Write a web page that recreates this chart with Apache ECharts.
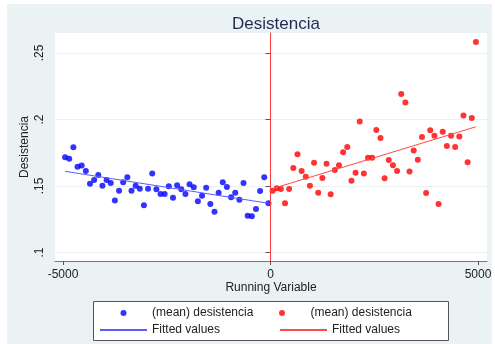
<!DOCTYPE html>
<html>
<head>
<meta charset="utf-8">
<script src="https://cdn.jsdelivr.net/npm/echarts@6/dist/echarts.min.js"></script>
<style>
html,body{margin:0;padding:0;background:#fff;}
#c{width:495px;height:344px;}
</style>
</head>
<body>
<div id="c"></div>
<script>
// Bin centers (running variable) and mean desistencia per bin
const xLeft = [-4950,-4850,-4750,-4650,-4550,-4450,-4350,-4250,-4150,-4050,
  -3950,-3850,-3750,-3650,-3550,-3450,-3350,-3250,-3150,-3050,
  -2950,-2850,-2750,-2650,-2550,-2450,-2350,-2250,-2150,-2050,
  -1950,-1850,-1750,-1650,-1550,-1450,-1350,-1250,-1150,-1050,
  -950,-850,-750,-650,-550,-450,-350,-250,-150,-50];
const yLeft = [0.1716,0.1705,0.1791,0.1645,0.1653,0.1613,0.1517,0.1545,0.1583,0.1502,
  0.1545,0.1523,0.1390,0.1465,0.1528,0.1566,0.1465,0.1502,0.1480,0.1355,
  0.1480,0.1593,0.1475,0.1440,0.1440,0.1498,0.1412,0.1505,0.1475,0.1440,
  0.1513,0.1490,0.1385,0.1427,0.1487,0.1365,0.1307,0.1450,0.1528,0.1493,
  0.1415,0.1450,0.1397,0.1523,0.1277,0.1272,0.1327,0.1462,0.1566,0.1370];
const xRight = [50,150,250,350,450,550,650,750,850,950,
  1050,1150,1250,1350,1450,1550,1650,1750,1850,1950,
  2050,2150,2250,2350,2450,2550,2650,2750,2850,2950,
  3050,3150,3250,3350,3450,3550,3650,3750,3850,3950,
  4050,4150,4250,4350,4450,4550,4650,4750,4850,4950];
const yRight = [0.1465,0.1483,0.1478,0.1370,0.1478,0.1636,0.1738,0.1613,0.1570,0.1502,
  0.1675,0.1450,0.1560,0.1668,0.1438,0.1620,0.1656,0.1753,0.1793,0.1540,
  0.1600,0.1984,0.1593,0.1713,0.1713,0.1921,0.1861,0.1558,0.1696,0.1656,
  0.1613,0.2192,0.2127,0.1608,0.1766,0.1698,0.1869,0.1447,0.1919,0.1878,
  0.1365,0.1908,0.1801,0.1878,0.1793,0.1871,0.2029,0.1678,0.2011,0.2583];
// Fitted line endpoints
const fitLeftX = [-4950, -50];
const fitLeftY = [0.1610, 0.1370];
const fitRightX = [50, 4950];
const fitRightY = [0.1480, 0.1945];
const xTicks = [-5000, 0, 5000];
const yTicks = [0.1, 0.15, 0.2, 0.25];
const yTickLabels = ['.1', '.15', '.2', '.25'];

const zip = (a, b) => a.map((v, i) => [v, b[i]]);
const chart = echarts.init(document.getElementById('c'), null, {renderer: 'canvas'});
const FONT = 'Liberation Sans';
const noSymbol = {color: 'rgba(0,0,0,0)', borderColor: 'rgba(0,0,0,0)', borderWidth: 0};
chart.setOption({
  backgroundColor: '#ffffff',
  animation: false,
  textStyle: {fontFamily: FONT},
  graphic: [
    {type: 'rect', z: -10, silent: true, shape: {x: 7, y: 4, width: 485, height: 340}, style: {fill: '#eaf2f3'}},
    {type: 'rect', z: 0, silent: true, shape: {x: 93.5, y: 301.5, width: 355, height: 39}, style: {fill: '#ffffff', stroke: '#555555', lineWidth: 1}}
  ],
  title: {
    text: 'Desistencia', left: 271, top: 11, textAlign: 'center',
    textStyle: {fontFamily: FONT, fontSize: 17, fontWeight: 'normal', color: '#1e2c52'}
  },
  grid: {left: 55, top: 33, right: 8, bottom: 83, show: true, backgroundColor: '#ffffff', borderWidth: 0},
  xAxis: {
    type: 'value', min: -5193, max: 5217,
    name: 'Running Variable', nameLocation: 'middle', nameGap: 21, nameMoveOverlap: false,
    nameTextStyle: {fontFamily: FONT, fontSize: 12, color: '#222'},
    axisLine: {show: true, lineStyle: {color: '#777', width: 1}},
    axisTick: {show: true, length: 4, customValues: xTicks, lineStyle: {color: '#555'}},
    axisLabel: {customValues: xTicks, margin: 8, fontFamily: FONT, fontSize: 12, color: '#222', showMinLabel: true, showMaxLabel: true,
      formatter: v => String(Math.round(v))},
    splitLine: {show: false}
  },
  yAxis: {
    type: 'value', min: 0.0936, max: 0.265,
    name: 'Desistencia', nameLocation: 'middle', nameGap: 24, nameRotate: 90, nameMoveOverlap: false,
    nameTextStyle: {fontFamily: FONT, fontSize: 12, color: '#222'},
    axisLine: {show: true, lineStyle: {color: '#777', width: 1}},
    axisTick: {show: true, length: 5, customValues: yTicks, lineStyle: {color: '#555'}},
    axisLabel: {customValues: yTicks, rotate: 90, margin: 9, fontFamily: FONT, fontSize: 12, color: '#222',
      formatter: v => { const i = yTicks.findIndex(t => Math.abs(t - v) < 1e-9); return i >= 0 ? yTickLabels[i] : ''; }},
    splitLine: {show: true, lineStyle: {color: '#eaf2f3', width: 1}}
  },
  legend: {
    left: 99, top: 307, width: 370, padding: 0, itemGap: 5, itemWidth: 47, itemHeight: 6,
    textStyle: {fontFamily: FONT, fontSize: 12, color: '#222', width: 122, lineHeight: 12},
    data: [
      {name: '(mean) desistencia', icon: 'circle'},
      {name: '(mean) desistencia\u200b', icon: 'circle'},
      {name: 'Fitted values', itemStyle: noSymbol},
      {name: 'Fitted values\u200b', itemStyle: noSymbol}
    ]
  },
  series: [
    {name: '(mean) desistencia', type: 'scatter', data: zip(xLeft, yLeft), symbolSize: 6, itemStyle: {color: '#0000ff'}, z: 3,
      markLine: {silent: true, symbol: 'none', label: {show: false}, lineStyle: {color: '#ff3b3b', width: 1, type: 'solid'}, data: [{xAxis: 0}], animation: false}},
    {name: '(mean) desistencia\u200b', type: 'scatter', data: zip(xRight, yRight), symbolSize: 6, itemStyle: {color: '#ff0000'}, z: 3},
    {name: 'Fitted values', type: 'line', data: zip(fitLeftX, fitLeftY), showSymbol: false, symbol: 'none', lineStyle: {color: '#5a5aff', width: 1}, itemStyle: {color: '#5a5aff'}, z: 4},
    {name: 'Fitted values\u200b', type: 'line', data: zip(fitRightX, fitRightY), showSymbol: false, symbol: 'none', lineStyle: {color: '#ff4a4a', width: 1}, itemStyle: {color: '#ff4a4a'}, z: 4}
  ]
});
</script>
</body>
</html>
